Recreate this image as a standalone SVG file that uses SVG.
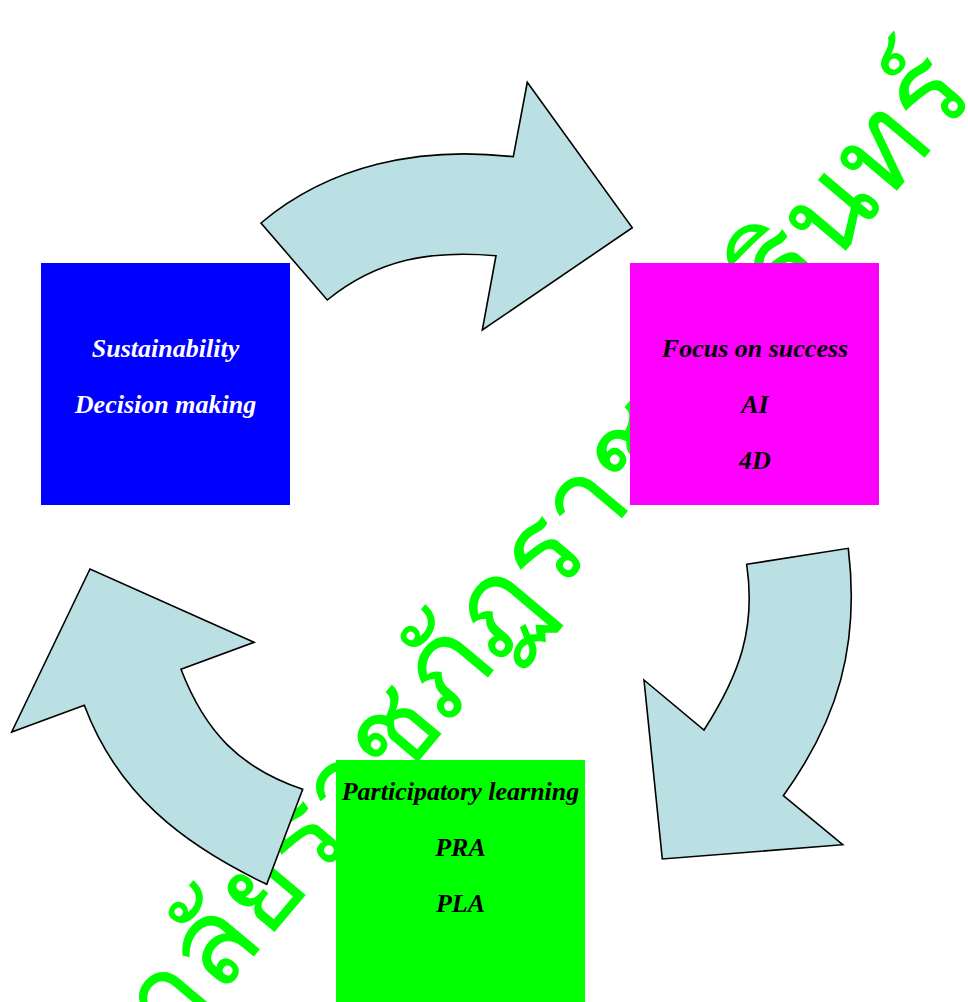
<svg xmlns="http://www.w3.org/2000/svg" width="968" height="1002" viewBox="0 0 968 1002">
<style>
.wm{font-family:"Noto Sans","DejaVu Sans",sans-serif;font-size:120px;fill:#00FF00}
.arrow{fill:#BBE0E3;stroke:#000;stroke-width:1.6;stroke-linejoin:miter}
.lbl{font-family:"Liberation Serif","Times New Roman",serif;font-size:26px;font-weight:bold;font-style:italic;text-anchor:middle}
.w{fill:#FFFFFF}
.k{fill:#000000}
</style>
<rect width="968" height="1002" fill="#FFFFFF"/>
<g id="watermark">
<text class="wm" text-anchor="end" transform="translate(977,95) rotate(-50)">มหาวิทยาลัยราชภัฏราชนครินทร์</text>
</g>
<g id="connectors">
<path class="arrow" d="M 261,223 C 330,165 420,146 513.3,156.7 L 527.3,82.3 L 632.3,227.7 L 482.3,330 L 496,255.7 C 431,250 378,259 327.3,300 Z"/>
<path class="arrow" d="M 746.7,564.3 L 848.3,548.3 C 860,645 838,720 783.3,795.7 L 842.7,844.7 L 662.3,859 L 644,680 L 704,730 C 740,674 756,628 746.7,564.3 Z"/>
<path class="arrow" d="M 302.7,789.3 L 266.7,884.3 C 182,844 117.3,793.3 84.3,705.3 L 11.7,732 L 90,569 L 254,642.3 L 181,669.3 C 205,732 240,768 302.7,789.3 Z"/>
</g>
<g id="node-sustainability">
<rect x="41" y="263" width="249" height="242" fill="#0000FF"/>
<text class="lbl w" x="165.5" y="357">Sustainability</text>
<text class="lbl w" x="165.5" y="413">Decision making</text>
</g>
<g id="node-focus">
<rect x="630" y="263" width="249" height="242" fill="#FF00FF"/>
<text class="lbl k" x="755" y="357">Focus on success</text>
<text class="lbl k" x="755" y="413">AI</text>
<text class="lbl k" x="755" y="469">4D</text>
</g>
<g id="node-participatory">
<rect x="336" y="760" width="249" height="242" fill="#00FF00"/>
<text class="lbl k" x="460.5" y="800">Participatory learning</text>
<text class="lbl k" x="460.5" y="856">PRA</text>
<text class="lbl k" x="460.5" y="912">PLA</text>
</g>
</svg>
